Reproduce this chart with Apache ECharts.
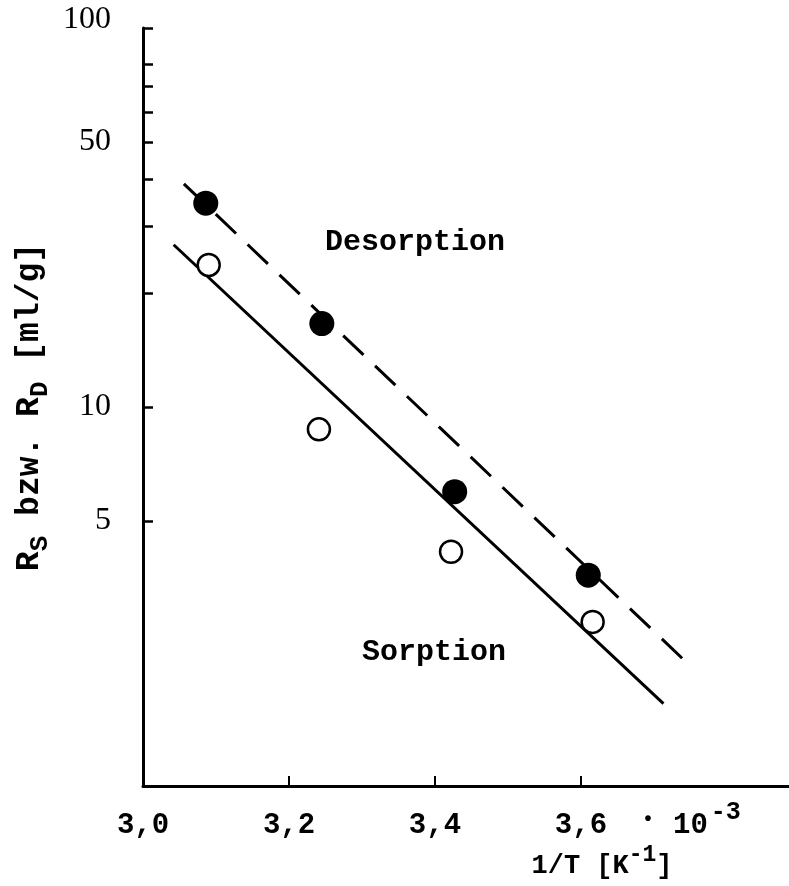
<!DOCTYPE html>
<html>
<head>
<meta charset="utf-8">
<script src="https://cdn.jsdelivr.net/npm/echarts@6/dist/echarts.min.js"></script>
<style>
  html, body { margin: 0; padding: 0; background: #fff; }
  #chart { width: 789px; height: 886px; }
</style>
</head>
<body>
<div id="chart"></div>
<script>
// ---- data ----
const xTickValues = [3.2, 3.4, 3.6];
const xLabelValues = [3.0, 3.2, 3.4, 3.6];
const yTickValues = [5, 10, 20, 30, 40, 50, 60, 70, 80, 100];
const yLabelValues = [5, 10, 50, 100];

const desorptionX = [3.086, 3.245, 3.427, 3.610];
const desorptionY = [34.5, 16.6, 5.98, 3.60];
const sorptionX = [3.090, 3.241, 3.422, 3.616];
const sorptionY = [23.7, 8.73, 4.15, 2.71];

const desFitX = [3.056, 3.740];
const desFitY = [38.8, 2.16];
const sorFitX = [3.042, 3.713];
const sorFitY = [26.8, 1.65];

const labelDesorption = 'Desorption';
const labelSorption = 'Sorption';
const xScaleSuffix = '{dot|•}{n|10}{sup|-3}';

const zip = (xs, ys) => xs.map((x, i) => [x, ys[i]]);
const MONO = '"Liberation Mono", "DejaVu Sans Mono", monospace';
const SERIF = '"Liberation Serif", "DejaVu Serif", serif';

const xRich = {
  z: { width: 0, lineHeight: 40, fontSize: 1 },
  n: { fontFamily: MONO, fontWeight: 'bold', fontSize: 29, color: '#000', lineHeight: 28, verticalAlign: 'bottom' },
  dot: { fontFamily: MONO, fontWeight: 'bold', fontSize: 20, color: '#000', lineHeight: 24, verticalAlign: 'bottom', width: 50, align: 'center', padding: [0, 0, 10, 0] },
  sup: { fontFamily: MONO, fontWeight: 'bold', fontSize: 25, color: '#000', lineHeight: 22, verticalAlign: 'top', padding: [0, 0, 0, 3] }
};

const chart = echarts.init(document.getElementById('chart'), null, { renderer: 'canvas' });

const option = {
  backgroundColor: '#ffffff',
  animation: false,
  grid: { left: 143, right: 0, top: 28, bottom: 100, containLabel: false },
  xAxis: {
    type: 'value',
    min: 3.0,
    max: 3.885,
    splitLine: { show: false },
    axisLine: { show: true, onZero: false, lineStyle: { color: '#000', width: 3 } },
    axisTick: { show: true, inside: true, length: 10, lineStyle: { color: '#000', width: 2 }, customValues: xTickValues },
    axisLabel: {
      show: true,
      margin: 14,
      hideOverlap: false,
      customValues: xLabelValues,
      formatter: function (v) {
        return '{z|}{n|' + v.toFixed(1).replace('.', ',') + '}';
      },
      rich: xRich
    },
    name: '{pad|}{z|}{n|1/T [K}{sup|-1}{n|]}',
    nameLocation: 'middle',
    nameGap: 58,
    nameMoveOverlap: false,
    nameTextStyle: {
      rich: {
        pad: { width: 272, lineHeight: 36, fontSize: 1 },
        z: { width: 0, lineHeight: 36, fontSize: 1 },
        n: { fontFamily: MONO, fontWeight: 'bold', fontSize: 27, color: '#000', lineHeight: 26, verticalAlign: 'bottom' },
        sup: { fontFamily: MONO, fontWeight: 'bold', fontSize: 23, color: '#000', lineHeight: 20, verticalAlign: 'top' }
      }
    }
  },
  yAxis: {
    type: 'log',
    logBase: 10,
    min: 1,
    max: 100,
    splitLine: { show: false },
    minorTick: { show: false },
    axisLine: { show: true, lineStyle: { color: '#000', width: 3 } },
    axisTick: { show: true, inside: true, length: 10, lineStyle: { color: '#000', width: 2.5 }, customValues: yTickValues },
    axisLabel: {
      show: true,
      margin: 32,
      customValues: yLabelValues,
      fontFamily: SERIF,
      fontSize: 32,
      color: '#000',
      formatter: function (v) {
        if (Math.abs(v - 100) < 1e-6) return '{t|100}';
        return String(Math.round(v));
      },
      rich: {
        t: { fontFamily: SERIF, fontSize: 32, color: '#000', padding: [0, 0, 16, 0] }
      }
    },
    name: '{z|}{n|R}{sub|S}{n| bzw. R}{sub|D}{n| [ml/g]}',
    nameLocation: 'middle',
    nameGap: 90,
    nameMoveOverlap: false,
    nameTextStyle: {
      rich: {
        z: { width: 0, lineHeight: 40, fontSize: 1 },
        n: { fontFamily: MONO, fontWeight: 'bold', fontSize: 33, color: '#000', lineHeight: 32, verticalAlign: 'top' },
        sub: { fontFamily: MONO, fontWeight: 'bold', fontSize: 26, color: '#000', lineHeight: 24, verticalAlign: 'bottom' }
      }
    }
  },
  graphic: [
    {
      type: 'text',
      left: 325,
      top: 227,
      style: { text: labelDesorption, font: 'bold 30px ' + MONO, fill: '#000' }
    },
    {
      type: 'text',
      left: 362,
      top: 637,
      style: { text: labelSorption, font: 'bold 30px ' + MONO, fill: '#000' }
    },
    {
      type: 'text',
      left: 623,
      top: 800,
      style: { text: '{z|}' + xScaleSuffix, rich: xRich, fill: '#000' }
    }
  ],
  series: [
    {
      name: 'Desorption fit',
      type: 'line',
      data: zip(desFitX, desFitY),
      symbol: 'none',
      lineStyle: { color: '#000', width: 3, type: [28, 16] },
      z: 2
    },
    {
      name: 'Sorption fit',
      type: 'line',
      data: zip(sorFitX, sorFitY),
      symbol: 'none',
      lineStyle: { color: '#000', width: 3, type: 'solid' },
      z: 2
    },
    {
      name: 'Desorption',
      type: 'scatter',
      data: zip(desorptionX, desorptionY),
      symbol: 'circle',
      symbolSize: 25,
      itemStyle: { color: '#000', opacity: 1 },
      z: 5
    },
    {
      name: 'Sorption',
      type: 'scatter',
      data: zip(sorptionX, sorptionY),
      symbol: 'circle',
      symbolSize: 22,
      itemStyle: { color: '#fff', borderColor: '#000', borderWidth: 2.5, opacity: 1 },
      z: 5
    }
  ]
};

chart.setOption(option);
</script>
</body>
</html>
